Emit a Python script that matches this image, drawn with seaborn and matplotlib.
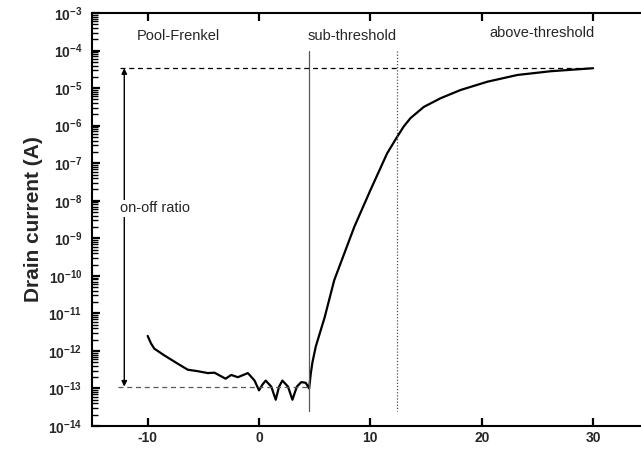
import numpy as np
import pandas as pd
import seaborn as sns
import matplotlib.pyplot as plt
from matplotlib.ticker import FixedLocator, NullFormatter

# gate voltage (V) and log10 of drain current (A)
vg = [-10.0, -9.7, -9.4, -8.5, -7.3, -6.4, -5.5, -4.6, -4.0, -3.0, -2.5, -1.9, -1.0, -0.4,
      0.0, 0.3, 0.6, 1.1, 1.5, 1.8, 2.1, 2.6, 3.0, 3.4, 3.8, 4.2, 4.5, 4.65, 4.8, 5.1,
      5.9, 6.75, 7.65, 8.55, 10.0, 11.5, 12.4, 13.0, 13.6, 14.8, 16.3, 18.1, 20.5,
      23.2, 26.2, 30.0]
log_id = [-11.6, -11.8, -11.94, -12.12, -12.34, -12.5, -12.54, -12.59, -12.58, -12.74,
          -12.64, -12.7, -12.59, -12.79, -13.05, -12.9, -12.79, -12.95, -13.3, -12.95,
          -12.79, -12.95, -13.3, -12.95, -12.83, -12.85, -13.0, -12.6, -12.3, -11.88,
          -11.1, -10.12, -9.41, -8.7, -7.72, -6.74, -6.3, -6.02, -5.8, -5.5, -5.27,
          -5.05, -4.83, -4.65, -4.55, -4.47]

region_labels = ["Pool-Frenkel", "sub-threshold", "above-threshold"]
region_x = [-11.0, 8.4, 25.4]
region_y = [10**-3.6, 10**-3.6, 10**-3.53]

v_sub = 4.5      # start of sub-threshold
v_th = 12.4      # threshold
i_on = 10**-4.47
i_off = 10**-12.95

df = pd.DataFrame({"Vg": vg, "Id": np.power(10.0, log_id)})

sns.set_style("ticks")
plt.rcParams["font.family"] = ["Liberation Sans", "DejaVu Sans"]
plt.rcParams["mathtext.fontset"] = "custom"
plt.rcParams["mathtext.bf"] = "Liberation Sans:bold"
plt.rcParams["mathtext.rm"] = "Liberation Sans"

fig = plt.figure(figsize=(6.41, 4.51), dpi=100)
ax = fig.add_axes([0.1435, 0.0554, 0.8686, 0.9157])

sns.lineplot(data=df, x="Vg", y="Id", color="black", lw=1.6, ax=ax)
ax.set_yscale("log")
ax.set_xlim(-15, 35)
ax.set_ylim(1e-14, 1e-3)

# region boundaries
ax.plot([v_sub, v_sub], [10**-4.0, 10**-13.6], color="0.35", lw=0.9)
ax.plot([v_th, v_th], [10**-4.0, 10**-13.6], color="0.3", lw=0.9, ls=(0, (1, 1.5)))

# on / off levels
ax.plot([-12.5, 30], [i_on, i_on], color="black", lw=0.9, ls=(0, (4, 3)))
ax.plot([-12.7, v_sub], [i_off, i_off], color="0.35", lw=0.9, ls=(0, (4, 3)))
ax.annotate("", xy=(-12.1, i_on), xytext=(-12.1, i_off),
            arrowprops=dict(arrowstyle="<|-|>", color="black", lw=1.0,
                            mutation_scale=8, shrinkA=0, shrinkB=0))
ax.text(-9.3, 10**-8.2, "on-off ratio", fontsize=10.5, ha="center", va="center",
        bbox=dict(facecolor="white", edgecolor="none", pad=1))

for lab, x, y in zip(region_labels, region_x, region_y):
    ha = "left" if lab == "Pool-Frenkel" else "center"
    ax.text(x, y, lab, fontsize=10.5, ha=ha, va="center")

ax.set_xticks([-10, 0, 10, 20, 30])
ax.set_xticklabels(["-10", "0", "10", "20", "30"], fontweight="bold", fontsize=10)
yt = [10.0**e for e in range(-14, -2)]
ax.set_yticks(yt)
ax.set_yticklabels([r"$\mathbf{10^{%d}}$" % e for e in range(-14, -2)], fontsize=10)
minor = [k * 10.0**e for e in range(-14, -3) for k in range(2, 10)]
ax.yaxis.set_minor_locator(FixedLocator(minor))
ax.yaxis.set_minor_formatter(NullFormatter())
ax.tick_params(axis="both", which="major", direction="in", length=6, width=1.6,
               color="black", top=True)
ax.tick_params(axis="y", which="minor", direction="in", length=4, width=1.0,
               color="black", left=True)
ax.tick_params(axis="y", pad=7)

ax.set_xlabel("")
ax.set_ylabel("Drain current (A)", fontsize=15, fontweight="bold", labelpad=4)
ax.spines["right"].set_visible(False)
for s in ["left", "bottom", "top"]:
    ax.spines[s].set_linewidth(1.5)
    ax.spines[s].set_color("black")

fig.savefig("out.png", dpi=100)
